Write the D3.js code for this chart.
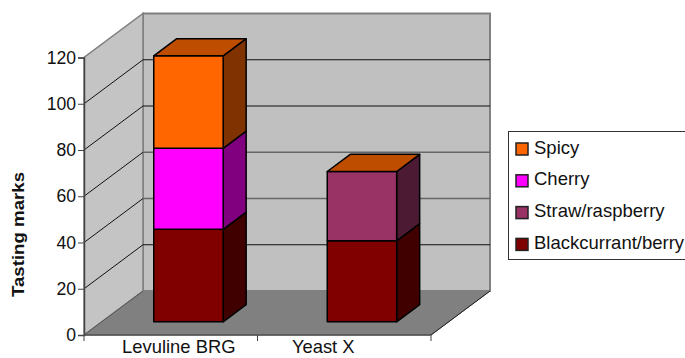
<!DOCTYPE html>
<html>
<head>
<meta charset="utf-8">
<script src="https://cdn.jsdelivr.net/npm/d3@7/dist/d3.min.js"></script>
<style>
html,body{margin:0;padding:0;background:#fff;overflow:hidden}
svg{display:block}
text{font-family:"Liberation Sans",Arial,sans-serif;fill:#111}
</style>
</head>
<body>
<svg id="chart" width="685" height="358"></svg>
<script>
// Stacking order runs bottom to top; zero-height entries still decide the cap colour.
const categories = ["Levuline BRG", "Yeast X"];
const seriesNames = ["Blackcurrant/berry", "Straw/raspberry", "Cherry", "Spicy"];
const blackcurrant = [40, 35];
const straw = [0, 30];
const cherry = [35, 0];
const spicy = [40, 0];
const seriesColors = ["#800000", "#993366", "#ff00ff", "#ff6600"];
const yTicks = [0, 20, 40, 60, 80, 100, 120];
const legendOrder = ["Spicy", "Cherry", "Straw/raspberry", "Blackcurrant/berry"];
const seriesValues = [blackcurrant, straw, cherry, spicy];

const svg = d3.select("#chart");
const y = d3.scaleLinear().domain([0, 120]).range([335, 57.5]);
const x = d3.scaleBand().domain(categories).range([84, 431]).paddingInner(0).paddingOuter(0);

// Oblique projection: depth 0 is the front plane, depth 1 the back wall.
const depthX = 59, depthY = -44;
const barDepthFront = 0.30, barDepthBack = 0.69;
const barWidth = x.bandwidth() * 0.4;
const project = (px, v, d) => [px + depthX * d, y(v) + depthY * d];
const pathOf = pts => "M" + pts.map(p => p.join(",")).join("L") + "Z";

const [x0, x1] = x.range();
const wallStroke = "#808080";

// Floor, back wall and side wall
svg.append("path")
  .attr("d", pathOf([project(x0, 0, 0), project(x1, 0, 0), project(x1, 0, 1), project(x0, 0, 1)]))
  .attr("fill", "#808080").attr("stroke", "#666").attr("stroke-width", 1);
svg.append("path")
  .attr("d", pathOf([project(x0, 0, 1), project(x1, 0, 1), project(x1, 120, 1), project(x0, 120, 1)]))
  .attr("fill", "#c0c0c0").attr("stroke", wallStroke).attr("stroke-width", 2);
svg.append("path")
  .attr("d", pathOf([project(x0, 0, 0), project(x0, 0, 1), project(x0, 120, 1), project(x0, 120, 0)]))
  .attr("fill", "#c4c4c4").attr("stroke", wallStroke).attr("stroke-width", 1.5);

// Gridlines wrap across the side wall and on along the back wall
const softGrid = new Set([40, 60]);
const grid = svg.append("g").attr("fill", "none");
yTicks.filter(t => t > 0 && t < 120).forEach(t => {
  grid.append("path").attr("d", d3.line()([project(x0, t, 0), project(x0, t, 1)]))
    .attr("stroke", "#111");
  grid.append("path").attr("d", d3.line()([project(x0, t, 1), project(x1, t, 1)]))
    .attr("stroke", softGrid.has(t) ? "#666" : "#111")
    .attr("stroke-width", softGrid.has(t) ? 1.5 : 1);
});
svg.append("path").attr("d", d3.line()([project(x0, 0, 0), project(x0, 0, 1)]))
  .attr("fill", "none").attr("stroke", "#555");
svg.append("path").attr("d", d3.line()([project(x1, 0, 0), project(x1, 0, 1)]))
  .attr("fill", "none").attr("stroke", "#222");

// Stacked 3D bars
const stacked = d3.stack().keys(d3.range(seriesNames.length))
  .value((cat, k) => seriesValues[k][cat])(d3.range(categories.length));

const shade = (c, f) => { const r = d3.rgb(c); return d3.rgb(r.r * f, r.g * f, r.b * f).formatHex(); };
const barLine = { stroke: "#000", "stroke-width": 1.5, "stroke-linejoin": "round" };
const applyLine = sel => Object.entries(barLine).forEach(([k, v]) => sel.attr(k, v));

categories.forEach((cat, ci) => {
  const g = svg.append("g").attr("class", "bar");
  const lx = x(cat) + (x.bandwidth() - barWidth) / 2 + depthX * barDepthFront;
  const rx = lx + barWidth;
  const dd = barDepthBack - barDepthFront;
  const dy0 = depthY * barDepthFront;
  const P = (px, v, back) => [px + (back ? depthX * dd : 0), y(v) + dy0 + (back ? depthY * dd : 0)];

  stacked.forEach((layer, si) => {
    const [a, b] = layer[ci];
    if (b <= a) return;
    const col = seriesColors[si];
    g.append("path").attr("d", pathOf([P(rx, a, 0), P(rx, a, 1), P(rx, b, 1), P(rx, b, 0)]))
      .attr("fill", shade(col, 0.5)).call(applyLine);
    g.append("path").attr("d", pathOf([P(lx, a, 0), P(rx, a, 0), P(rx, b, 0), P(lx, b, 0)]))
      .attr("fill", col).call(applyLine);
  });
  // The cap takes the colour of the last series in the stack
  const topV = stacked[stacked.length - 1][ci][1];
  g.append("path").attr("d", pathOf([P(lx, topV, 0), P(rx, topV, 0), P(rx, topV, 1), P(lx, topV, 1)]))
    .attr("fill", shade(seriesColors[seriesColors.length - 1], 0.75)).call(applyLine);
});

// Axes
const axisColor = "#444";
const yAxis = svg.append("g").attr("transform", `translate(${x0},0)`)
  .call(d3.axisLeft(y).tickValues(yTicks).tickSize(6).tickPadding(2));
yAxis.select(".domain").attr("stroke", axisColor).attr("stroke-width", 1.5);
yAxis.selectAll("line").attr("stroke", axisColor);
yAxis.selectAll("text").attr("font-size", 17.6).attr("font-family", '"Liberation Sans"').attr("fill", "#111");

const xAxisY = y(0);
const xAxis = svg.append("g").attr("transform", `translate(0,${xAxisY})`)
  .call(d3.axisBottom(x).tickSize(0).tickPadding(5));
xAxis.select(".domain").remove();
xAxis.selectAll("text").attr("font-size", 18.4).attr("font-family", '"Liberation Sans"').attr("fill", "#111");
// The category names sit off their band centres
const labelShift = [8, -21];
xAxis.selectAll(".tick text").attr("dx", (d, i) => labelShift[i]);
svg.append("path").attr("d", d3.line()([[x0, xAxisY], [x1, xAxisY]]))
  .attr("stroke", "#555").attr("stroke-width", 1.5).attr("fill", "none");
[x0, x0 + x.bandwidth(), x1].forEach(t => {
  svg.append("line").attr("x1", t).attr("x2", t).attr("y1", xAxisY).attr("y2", xAxisY + 6)
    .attr("stroke", axisColor);
});

// Axis title
svg.append("text")
  .attr("transform", "translate(23.5,234.5) rotate(-90)")
  .attr("text-anchor", "middle")
  .attr("font-size", 16).attr("font-weight", "bold")
  .attr("textLength", 125).attr("lengthAdjust", "spacingAndGlyphs")
  .text("Tasting marks");

// Legend
svg.append("rect").attr("x", 508.5).attr("y", 131.5).attr("width", 190).attr("height", 128)
  .attr("fill", "#fff").attr("stroke", "#333");
const legend = svg.append("g");
legendOrder.forEach((name, i) => {
  const ly = 149 + i * 31.8;
  legend.append("rect").attr("x", 516).attr("y", ly - 6).attr("width", 12).attr("height", 12)
    .attr("fill", seriesColors[seriesNames.indexOf(name)])
    .attr("stroke", "#222").attr("stroke-width", 1.5);
  legend.append("text").attr("x", 534).attr("y", ly + 4.5).attr("font-size", 18.5).text(name);
});
</script>
</body>
</html>
